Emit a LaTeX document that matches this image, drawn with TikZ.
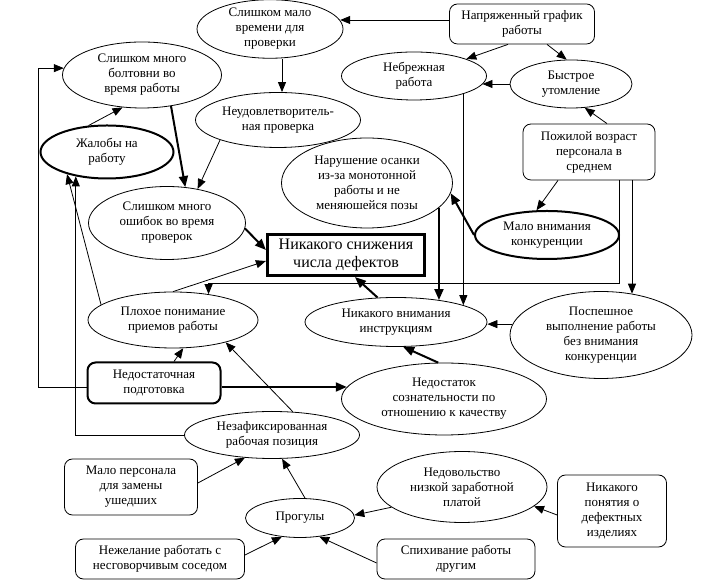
\documentclass[tikz,border=0pt]{standalone}
\usepackage{fontspec}
\setmainfont{Liberation Serif}
\usetikzlibrary{shapes.geometric,arrows.meta,calc}
\begin{document}
\begin{tikzpicture}[x=1pt,y=1pt,
  every node/.style={font=\fontsize{13}{15}\selectfont, align=center, inner sep=0pt, text=black},
  ell/.style={ellipse, draw, line width=0.8pt},
  thickell/.style={ellipse, draw, line width=2pt},
  rbox/.style={rectangle, rounded corners=8pt, draw, line width=0.8pt},
  arr/.style={-{Triangle[length=10pt,width=8pt]}, line width=0.8pt},
  tarr/.style={-{Triangle[length=11pt,width=9pt]}, line width=2pt},
]
\useasboundingbox (0,0) rectangle (722,588);

\node[ell, minimum width=146, minimum height=58] (slmalo) at (270,559) {Слишком мало\\времени для\\проверки};
\node[rbox, minimum width=145, minimum height=40] (graph) at (522,564) {Напряженный график\\работы};
\node[ell, minimum width=159, minimum height=66] (boltovni) at (142,513) {Слишком много\\болтовни во\\время работы};
\node[ell, minimum width=145, minimum height=48] (nebr) at (414,512) {Небрежная\\работа};
\node[ell, minimum width=122, minimum height=48] (bystr) at (571,504) {Быстрое\\утомление};
\node[ell, minimum width=165, minimum height=55] (neud) at (278,468) {Неудовлетворитель-\\ная проверка};
\node[thickell, minimum width=133, minimum height=53] (zhal) at (107,436) {Жалобы на\\работу};
\node[rbox, minimum width=132, minimum height=56] (pozh) at (589,436) {Пожилой возраст\\персонала в\\среднем};
\node[ell, minimum width=171, minimum height=90] (narush) at (367,405) {Нарушение осанки\\из-за монотонной\\работы и не\\меняюшейся позы};
\node[thickell, minimum width=144, minimum height=48] (malo) at (547,353) {Мало внимания\\конкуренции};
\node[ell, minimum width=157, minimum height=73] (oshib) at (167,365) {Слишком много\\ошибок во время\\проверок};
\node[draw, rectangle, line width=3.2pt, minimum width=157, minimum height=41, font=\fontsize{16}{17.5}\selectfont] (main) at (346,333) {Никакого снижения\\числа дефектов};
\node[ell, minimum width=170, minimum height=56] (plokh) at (173,268) {Плохое понимание\\приемов работы};
\node[ell, minimum width=182, minimum height=49] (nikvn) at (396,266) {Никакого внимания\\инструкциям};
\node[ell, minimum width=182, minimum height=87] (posp) at (601,253) {Поспешное\\выполнение работы\\без внимания\\конкуренции};
\node[rbox, line width=2pt, minimum width=133, minimum height=41] (nedpod) at (154,205) {Недостаточная\\подготовка};
\node[ell, minimum width=205, minimum height=72] (nedsozn) at (444,189) {Недостаток\\сознательности по\\отношению к качеству};
\node[ell, minimum width=175, minimum height=47] (nezaf) at (272,153) {Незафиксированная\\рабочая позиция};
\node[rbox, minimum width=133, minimum height=56] (malopers) at (131,101) {Мало персонала\\для замены\\ушедших};
\node[ell, minimum width=109, minimum height=39] (progul) at (300,70) {Прогулы};
\node[ell, minimum width=170, minimum height=71] (nedov) at (462,101) {Недовольство\\низкой заработной\\платой};
\node[rbox, minimum width=109, minimum height=72] (ponyat) at (612,77) {Никакого\\понятия о\\дефектных\\изделиях};
\node[rbox, minimum width=169, minimum height=40] (nezhel) at (160,29) {Нежелание работать с\\несговорчивым соседом};
\node[rbox, minimum width=158, minimum height=40] (spikh) at (456,29) {Спихивание работы\\другим};

% connectors
\draw[arr] ([yshift=4]graph.west) -- ([yshift=4]graph.west -| slmalo.7);
\draw[arr] ([xshift=-14]graph.south) -- (nebr.18);
\draw[arr] ([xshift=25]graph.south) -- (bystr.100);
\draw[arr] (bystr.west) -- (bystr.west -| nebr.-7);
\draw[arr] ([xshift=18]pozh.north) -- (bystr.-60);
\draw[arr] ([xshift=12]slmalo.south) -- ([xshift=12]slmalo.south |- neud.north);
\draw[arr] (zhal.125) -- (boltovni.-121);
\draw[tarr] (boltovni.-47) -- (oshib.63);
\draw[arr] (neud.-161) -- (oshib.48);
\draw[tarr] (oshib.-4) -- ([yshift=5]main.west);
\draw[arr] (plokh.north) -- ([yshift=-6]main.west);
\draw[arr] (plokh.168) -- (zhal.-151);
\draw[arr] (nezaf.west) -| (zhal.-142);
\draw[arr] ([yshift=-4]nedpod.west) -- ++(-48,0) |- (boltovni.175);
\draw[arr] ([xshift=20]nedpod.north) -- (plokh.-70);
\draw[tarr] ([yshift=-4]nedpod.east) -- ([yshift=-4]nedpod.east -| nedsozn.173);
\draw[arr] (nezaf.48) -- (plokh.-23);
\draw[arr] ([xshift=30]pozh.south) -- ++(0,-103) -| (plokh.36);
\draw[arr] ([xshift=43]pozh.south) -- ([xshift=43]pozh.south |- posp.53);
\draw[arr] (nebr.-20) -- (nebr.-20 |- nikvn.14);
\draw[tarr] (narush.-19) -- (narush.-19 |- nikvn.27);
\draw[tarr] (malo.west) -- (narush.-7);
\draw[arr] ([xshift=-31]pozh.south) -- (malo.113);
\draw[tarr] (nikvn.127) -- ([xshift=9]main.south);
\draw[arr] (posp.173) -- (posp.173 -| nikvn.east);
\draw[tarr] (nedsozn.99) -- (nikvn.-74);
\draw[arr] ([yshift=4]malopers.east) -- (nezaf.-140);
\draw[arr] ([xshift=5]progul.north) -- (nezaf.-67);
\draw[arr] (nedov.-164) -- (progul.3);
\draw[arr] ([yshift=-4]ponyat.west) -- (nedov.-15);
\draw[arr] ([yshift=4]nezhel.east) -- (progul.-134);
\draw[arr] ([yshift=-4]spikh.west) -- (progul.-44);
\end{tikzpicture}
\end{document}
